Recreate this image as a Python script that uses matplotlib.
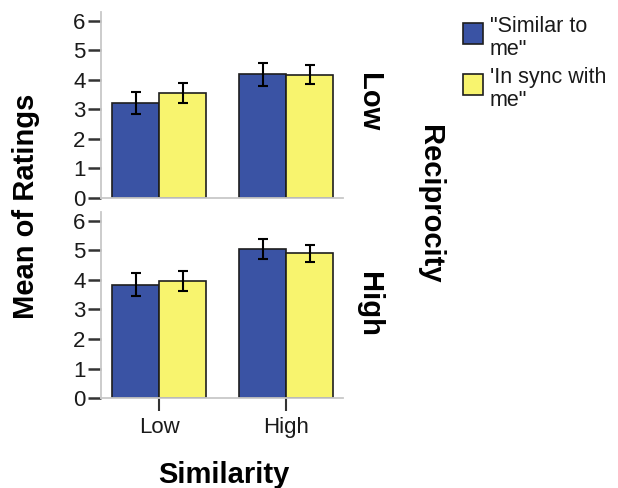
import numpy as np
import matplotlib
matplotlib.use("Agg")
import matplotlib.pyplot as plt
from matplotlib.patches import Rectangle

plt.rcParams["font.family"] = ["Liberation Sans", "DejaVu Sans"]

# ---- data ----
similarity = ["Low", "High"]
reciprocity = ["Low", "High"]
legend_labels = ['"Similar to\nme"', "'In sync with\nme\""]

# Reciprocity = Low
similar_low = [3.22, 4.19]
similar_low_err = [0.38, 0.38]
sync_low = [3.56, 4.18]
sync_low_err = [0.35, 0.32]

# Reciprocity = High
similar_high = [3.83, 5.04]
similar_high_err = [0.39, 0.34]
sync_high = [3.96, 4.91]
sync_high_err = [0.35, 0.29]

blue = "#3A53A4"
yellow = "#F8F46E"
edge = "#1e1e1e"
spine_col = "#c8c8c8"

panels = [
    (similar_low, similar_low_err, sync_low, sync_low_err),
    (similar_high, similar_high_err, sync_high, sync_high_err),
]

fig = plt.figure(figsize=(6.18, 4.88), dpi=100)
ax_top = fig.add_axes([0.1634, 0.5943, 0.3916, 0.381])
ax_bot = fig.add_axes([0.1634, 0.1844, 0.3916, 0.381])
axes = [ax_top, ax_bot]

x = np.arange(len(similarity))
w = 0.37
err_kw = dict(ecolor="black", elinewidth=1.5, capthick=1.5, capsize=3.6)

for ax, (sim, sim_e, syn, syn_e) in zip(axes, panels):
    ax.bar(x - w / 2, sim, w, yerr=sim_e, color=blue, edgecolor=edge,
           linewidth=1.2, error_kw=err_kw, zorder=2)
    ax.bar(x + w / 2, syn, w, yerr=syn_e, color=yellow, edgecolor=edge,
           linewidth=1.2, error_kw=err_kw, zorder=2)
    ax.set_xlim(-0.46, 1.445)
    ax.set_ylim(0, 6.3)
    ax.set_yticks(range(7))
    for s in ["top", "right"]:
        ax.spines[s].set_visible(False)
    for s in ["left", "bottom"]:
        ax.spines[s].set_color(spine_col)
        ax.spines[s].set_linewidth(1.3)
    ax.tick_params(axis="y", length=9.5, width=1.8, color="#333333",
                   pad=1.5, labelsize=16, labelcolor="#1a1a1a")
    ax.tick_params(axis="x", length=9.5, width=1.5, color="#333333",
                   pad=4, labelsize=16, labelcolor="#1a1a1a")

ax_top.set_xticks([])
ax_bot.set_xticks(x)
ax_bot.set_xticklabels(similarity)

# strip labels for reciprocity
fig.text(0.597, 0.790, reciprocity[0], rotation=-90, ha="center", va="center",
         fontsize=21, fontweight="bold")
fig.text(0.597, 0.376, reciprocity[1], rotation=-90, ha="center", va="center",
         fontsize=21, fontweight="bold")
fig.text(0.696, 0.582, "Reciprocity", rotation=-90, ha="center", va="center",
         fontsize=21, fontweight="bold")

fig.text(0.042, 0.577, "Mean of Ratings", rotation=90, ha="center",
         va="center", fontsize=21, fontweight="bold")
fig.text(0.3625, 0.0102, "Similarity", ha="center", va="baseline",
         fontsize=21, fontweight="bold")

# legend drawn by hand (squares + wrapped labels)
W, H = 618.0, 488.0
sq_tops = [23, 74]
text_baselines = [32, 83]
for col, label, top, base in zip([blue, yellow], legend_labels, sq_tops, text_baselines):
    fig.add_artist(Rectangle((463 / W, 1 - (top + 21) / H), 20 / W, 21 / H,
                             transform=fig.transFigure, facecolor=col,
                             edgecolor=edge, linewidth=1.2))
    for i, line in enumerate(label.split("\n")):
        fig.text(490 / W, 1 - (base + 23 * i) / H, line, ha="left",
                 va="baseline", fontsize=15.5, color="#1a1a1a")

fig.savefig("out.png", dpi=100)
